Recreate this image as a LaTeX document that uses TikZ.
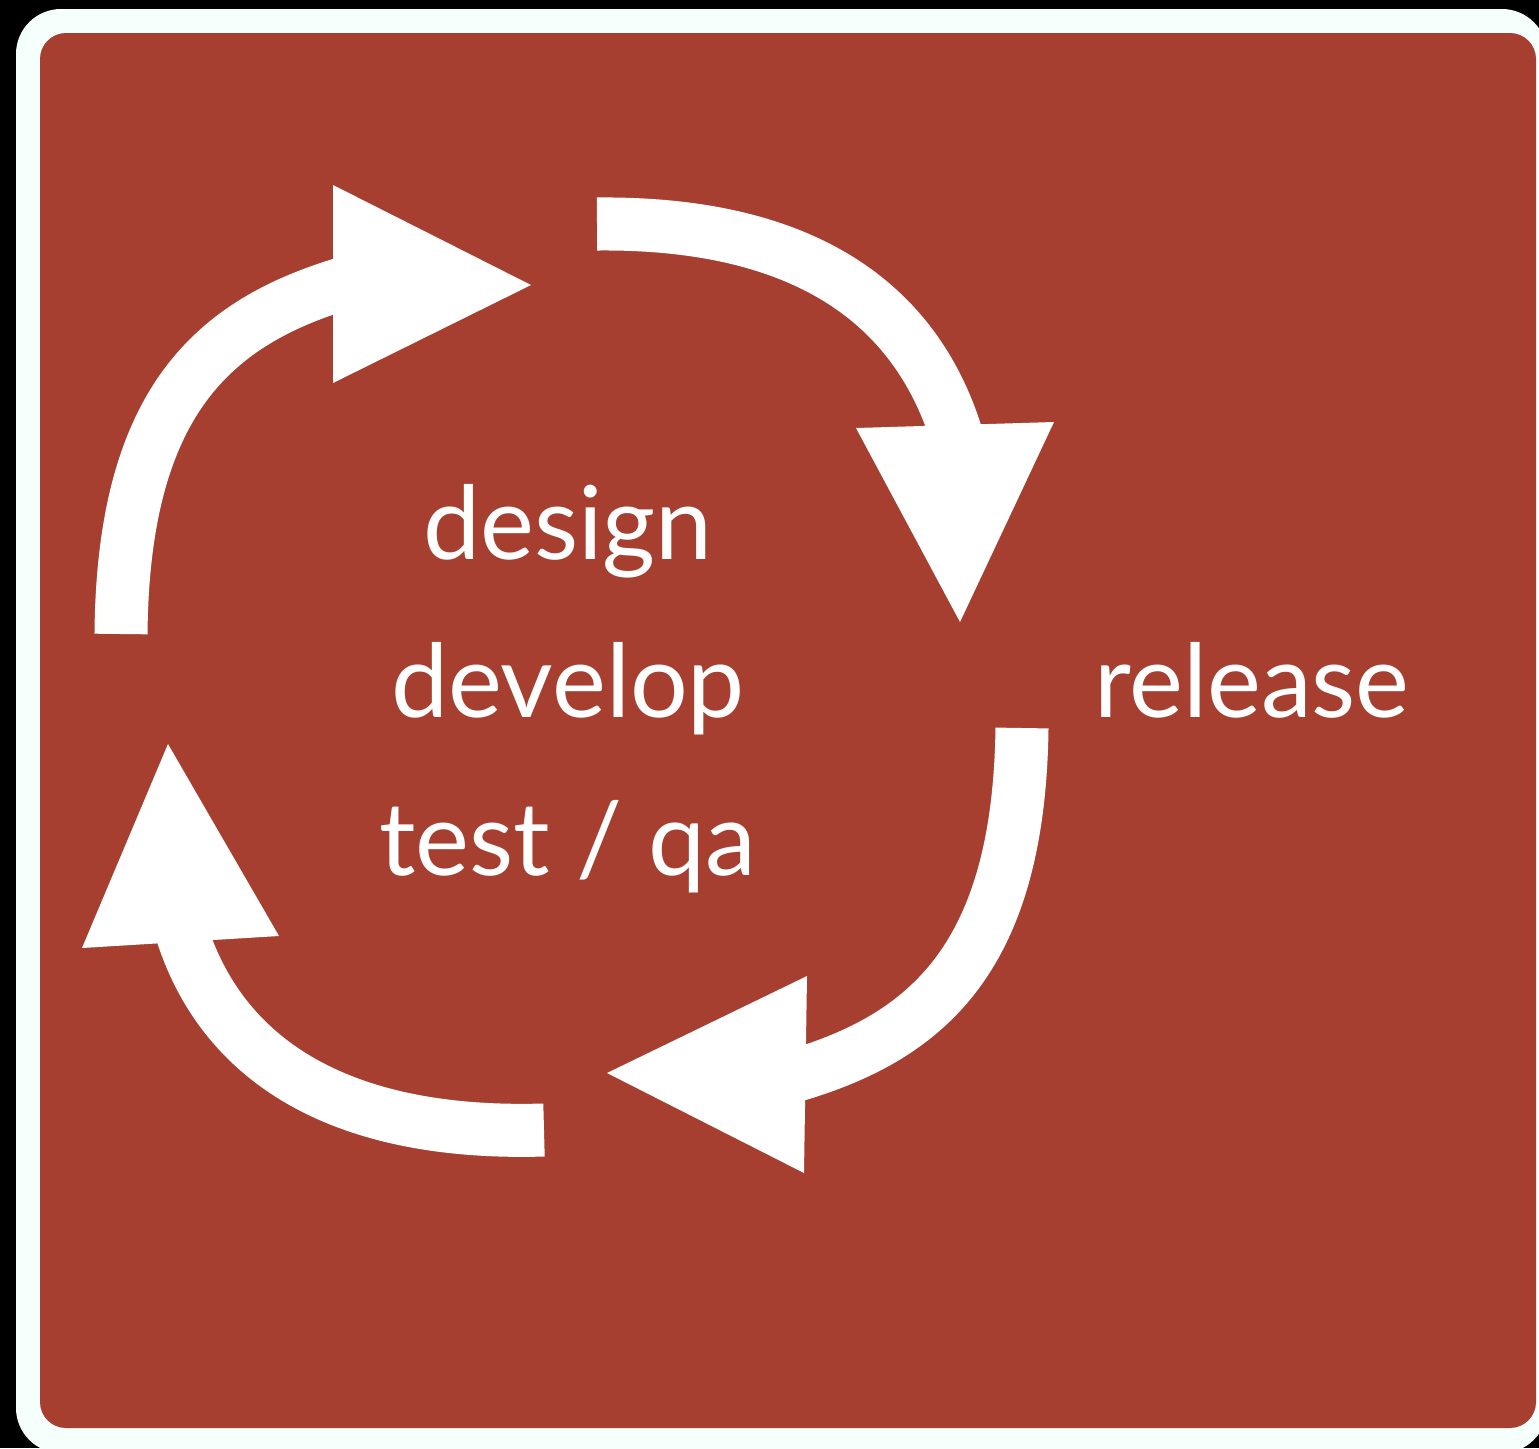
\documentclass[tikz,border=0pt]{standalone}
\usepackage{fontspec}
\setmainfont{Lato}
\usetikzlibrary{positioning}
\definecolor{slidered}{HTML}{A63F30}
\definecolor{slideframe}{HTML}{F5FFFC}

\begin{document}
\begin{tikzpicture}[x=0.01cm, y=-0.01cm,
    % styles for the words and the cycle arrows
    word/.style={text=white, anchor=base, inner sep=0pt,
      font=\fontsize{29}{34}\selectfont},
    band/.style={draw=white, line width=0.53cm},
    head/.style={fill=white}
  ]
  \useasboundingbox (0,0) rectangle (1539,1448);

  % background and frame
  \fill[black] (0,0) rectangle (1539,1448);
  \fill[slideframe, rounded corners=0.45cm] (16,9) rectangle (1547,1453);
  \fill[slidered, rounded corners=0.26cm] (40,33) rectangle (1536,1428);

  % Nodes
  \node[word] (develop) at (568,717) {develop};
  \node[word, above=1.57cm of develop.base, anchor=base] (design) {design};
  \node[word, below=1.58cm of develop.base, anchor=base] (testqa) {test / qa};
  \node[word] (release) at (1252,717) {release};

  % Arrows
  \draw[band] (121,634) .. controls (123,400) and (215,322) .. (345,283);
  \fill[head] (333,185) -- (531,285) -- (333,383) -- cycle;

  \draw[band] (597,224) .. controls (800,222) and (915,300) .. (957,437);
  \fill[head] (856,428) -- (960,622) -- (1054,422) -- cycle;

  \draw[band] (1022,728) .. controls (1019,958) and (927,1036) .. (797,1075);
  \fill[head] (807,976) -- (607,1073) -- (804,1173) -- cycle;

  \draw[band] (544,1130) .. controls (342,1136) and (222,1062) .. (181,930);
  \fill[head] (82,948) -- (168,744) -- (279,936) -- cycle;
\end{tikzpicture}
\end{document}
